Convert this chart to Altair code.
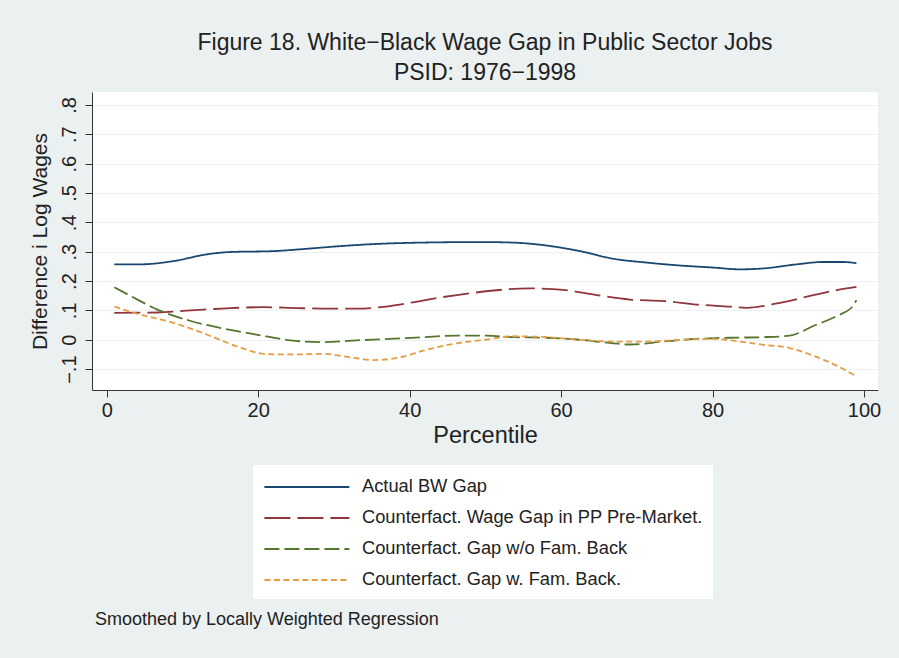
import altair as alt
import pandas as pd

FONT = "Liberation Sans"

series_names = [
    "Actual BW Gap",
    "Counterfact. Wage Gap in PP Pre-Market.",
    "Counterfact. Gap w/o Fam. Back",
    "Counterfact. Gap w. Fam. Back.",
]
series_colors = ["#1a476f", "#90353b", "#55752f", "#e49c45"]
series_dashes = [[1, 0], [26, 7], [15, 5], [6, 3.5]]

actual_x = [1, 4.4, 8.8, 13.2, 16.3, 22, 26.4, 30.8, 35.2, 39.6, 44, 49.3, 53.7, 58.1,
            62.5, 66.9, 71.3, 75.7, 80.1, 83.6, 86.7, 91.1, 94.6, 97.3, 99]
actual_y = [0.257, 0.257, 0.268, 0.291, 0.299, 0.302, 0.310, 0.319, 0.326, 0.330, 0.332,
            0.333, 0.331, 0.321, 0.302, 0.276, 0.263, 0.253, 0.246, 0.240, 0.243, 0.257,
            0.265, 0.265, 0.261]

premkt_x = [1, 6.7, 11.1, 16.3, 20.7, 25.1, 29.5, 33, 37.4, 40, 44, 48.4, 55.9, 60.3,
            64.7, 69.1, 73.5, 77.9, 82.3, 84.5, 88.9, 93.3, 96.4, 99]
premkt_y = [0.092, 0.093, 0.100, 0.108, 0.111, 0.108, 0.106, 0.106, 0.115, 0.126, 0.144,
            0.160, 0.175, 0.170, 0.152, 0.137, 0.132, 0.120, 0.113, 0.109, 0.126, 0.152,
            0.169, 0.180]

nofam_x = [1, 3.6, 6.7, 11.1, 15.5, 19.9, 24.3, 28.6, 33, 37.4, 41.8, 46.2, 50.2, 53.7,
           58.1, 62.5, 66.9, 69.1, 73.5, 77.9, 82.3, 86.7, 90.2, 93.3, 96.4, 98.6, 99]
nofam_y = [0.179, 0.143, 0.103, 0.064, 0.038, 0.017, -0.002, -0.008, -0.002, 0.003, 0.009,
           0.014, 0.014, 0.009, 0.007, 0.0, -0.012, -0.016, -0.006, 0.003, 0.007, 0.009,
           0.014, 0.047, 0.081, 0.117, 0.135]

fam_x = [1, 4.4, 8.8, 13.2, 17.6, 21.1, 24.3, 28.6, 32.2, 35.2, 38.7, 41.8, 46.2, 50.2,
         53.7, 58.1, 62.5, 66.9, 71.3, 75.7, 80.1, 83.6, 86.7, 90.2, 93.3, 96.4, 99]
fam_y = [0.113, 0.086, 0.058, 0.018, -0.026, -0.049, -0.050, -0.048, -0.060, -0.069,
         -0.060, -0.037, -0.012, 0.001, 0.012, 0.009, 0.0, -0.006, -0.006, 0.0, 0.003,
         -0.006, -0.017, -0.028, -0.054, -0.088, -0.125]

x_ticks = [0, 20, 40, 60, 80, 100]
y_ticks = [-0.1, 0, 0.1, 0.2, 0.3, 0.4, 0.5, 0.6, 0.7, 0.8]

frames = []
for name, xs, ys in zip(series_names,
                        [actual_x, premkt_x, nofam_x, fam_x],
                        [actual_y, premkt_y, nofam_y, fam_y]):
    frames.append(pd.DataFrame({"pct": xs, "gap": ys, "series": name}))
df = pd.concat(frames, ignore_index=True)

legend_kw = dict(orient="none", legendX=161, legendY=373, title=None,
                 symbolType="M-1,0H7", symbolSize=451, symbolStrokeWidth=2,
                 labelFontSize=18.3, labelFont=FONT, labelColor="#222",
                 fillColor="white", padding=10, rowPadding=10, labelOffset=75,
                 labelLimit=600)

lines = alt.Chart(df).mark_line(strokeWidth=1.8, interpolate="monotone").encode(
    x=alt.X("pct:Q",
            scale=alt.Scale(domain=[-1.95, 101.85], nice=False, zero=False),
            axis=alt.Axis(values=x_ticks, title="Percentile", grid=False,
                          tickSize=7, tickColor="#333", domainColor="#333",
                          labelFontSize=20, labelColor="#222", labelPadding=3,
                          titleFontSize=23.5, titleFontWeight="normal",
                          titleColor="#222", titlePadding=3,
                          labelFont=FONT, titleFont=FONT)),
    y=alt.Y("gap:Q",
            scale=alt.Scale(domain=[-0.171, 0.844], nice=False, zero=False),
            axis=alt.Axis(values=y_ticks, title="Difference i Log Wages",
                          grid=True, gridColor="#eef1f1", gridWidth=1,
                          tickSize=7, tickColor="#333", domainColor="#333",
                          labelAngle=-90, labelAlign="center", labelBaseline="bottom",
                          labelFontSize=20, labelColor="#222", labelPadding=6,
                          labelExpr="datum.value == 0 ? '0' : replace(replace(format(datum.value, '.1f'), '0.', '.'), '-', '−')",
                          titleFontSize=21, titleFontWeight="normal",
                          titleColor="#222", titlePadding=9,
                          labelFont=FONT, titleFont=FONT)),
    color=alt.Color("series:N",
                    scale=alt.Scale(domain=series_names, range=series_colors),
                    legend=alt.Legend(**legend_kw)),
    strokeDash=alt.StrokeDash("series:N",
                              scale=alt.Scale(domain=series_names, range=series_dashes),
                              legend=alt.Legend(**legend_kw)),
)

note = alt.Chart(pd.DataFrame({"t": ["Smoothed by Locally Weighted Regression"]})).mark_text(
    align="left", baseline="middle", fontSize=18, font=FONT, color="#222"
).encode(text="t:N", x=alt.value(3), y=alt.value(528))

chart = alt.layer(lines, note).properties(
    width=786, height=298,
    background="#ebf0f0",
    padding={"left": 92, "top": 92, "right": 21, "bottom": 268},
    autosize=alt.AutoSizeParams(type="none"),
    title=alt.TitleParams(
        text=["Figure 18. White−Black Wage Gap in Public Sector Jobs", "PSID: 1976−1998"],
        fontSize=23, fontWeight="normal", font=FONT, color="#222",
        lineHeight=30, offset=7, anchor="middle"),
).configure_view(fill="white", stroke=None)

chart.save("out.html", embed_options={"renderer": "svg", "actions": False})
